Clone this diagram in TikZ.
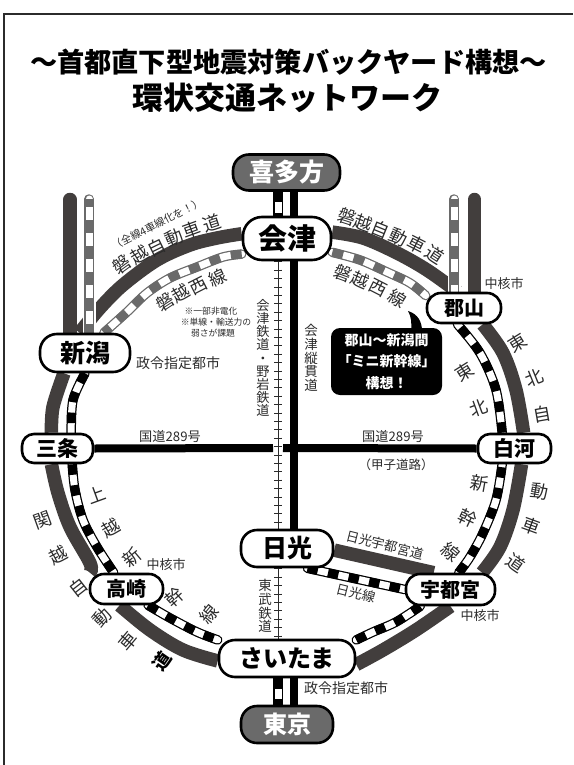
\documentclass[tikz,border=0pt]{standalone}
\usepackage{fontspec}
\setmainfont{Noto Sans CJK JP}
\usetikzlibrary{calc}
\pgfdeclarelayer{bg}
\pgfsetlayers{bg,main}
\definecolor{roadc}{HTML}{423E3D}
\definecolor{railg}{HTML}{6A6A6A}
\definecolor{ink}{HTML}{2B2B2B}
\newcommand\fz[1]{\fontsize{#1}{#1}\selectfont}
\newcommand\tx[6]{\node[lab,rotate=#4,font=\fz{#5}] (#1) at (#2,#3) {#6};}
\tikzset{
  x=1pt,y=-1pt,
  lab/.style={inner sep=0pt,outer sep=0pt,text=ink},
  vert/.style={inner sep=0pt,text=ink,align=center},
  stn/.style={draw=black,line width=2.6pt,fill=white,rounded corners=14pt,inner sep=0pt,text=black,font=\bfseries},
  stg/.style={stn,fill=railg,text=white},
  road/.style={draw=roadc,line width=13.5pt},
  expw/.style={draw=black,line width=8pt},
  railbase/.style={line cap=round,line width=9.5pt,
    postaction={draw=white,line width=7pt,line cap=round}},
  railk/.style={draw=black,railbase,postaction={draw=black,line width=9pt,line cap=butt,dash pattern=on 10.5pt off 10.5pt}},
  railn/.style={draw=railg,railbase,postaction={draw=railg,line width=9pt,line cap=butt,dash pattern=on 11pt off 11pt}},
  railv/.style={draw=railg,railbase,preaction={draw=white,line width=13pt,line cap=butt},postaction={draw=railg,line width=9pt,line cap=butt,dash pattern=on 13pt off 13pt,dash phase=5pt}},
  tie/.style={draw=ink,line width=0.8pt,postaction={draw=ink,line width=8pt,dash pattern=on 0.8pt off 7.6pt}},
  smth/.style={smooth,tension=0.55},
}
\begin{document}
\begin{tikzpicture}
\useasboundingbox (0,0) rectangle (573,765);
\draw[line width=1.8pt,color=ink] (4,765) -- (4,14) -- (573,14);

% stations
\node[stg,minimum width=107pt,minimum height=36pt,rounded corners=16pt,font=\bfseries\fz{25}] (kita) at (286.5,172.5) {喜多方};
\node[stn,minimum width=88pt,minimum height=43pt,rounded corners=19pt,font=\bfseries\fz{29}] (aizu) at (287,238.5) {会津};
\node[stn,minimum width=90pt,minimum height=38pt,rounded corners=17pt,font=\bfseries\fz{25}] (nii) at (85,353) {新潟};
\node[stn,minimum width=71pt,minimum height=29pt,rounded corners=12pt,font=\bfseries\fz{21}] (san) at (57.5,448.5) {三条};
\node[stn,minimum width=74pt,minimum height=30pt,font=\bfseries\fz{20}] (kor) at (464,308) {郡山};
\node[stn,minimum width=73pt,minimum height=29pt,rounded corners=12pt,font=\bfseries\fz{21}] (shi) at (514.5,448.5) {白河};
\node[stn,minimum width=92pt,minimum height=37pt,rounded corners=16pt,font=\bfseries\fz{25}] (nik) at (287,548.5) {日光};
\node[stn,minimum width=73pt,minimum height=30pt,font=\bfseries\fz{20}] (tak) at (126.5,589) {高崎};
\node[stn,minimum width=89pt,minimum height=31pt,font=\bfseries\fz{20}] (uts) at (450.5,589.5) {宇都宮};
\node[stn,minimum width=136pt,minimum height=37pt,rounded corners=16pt,font=\bfseries\fz{24}] (sai) at (287,658.5) {さいたま};
\node[stg,minimum width=92pt,minimum height=37pt,rounded corners=16pt,font=\bfseries\fz{24}] (tok) at (287,724.5) {東京};

\coordinate (vLr) at (70,199.5);
\coordinate (vLt) at (89,199);
\coordinate (vRr) at (474.5,199.5);
\coordinate (vRt) at (454,199);
\coordinate (rail) at (278,448);
\coordinate (exw) at (294,448);

\begin{pgfonlayer}{bg}
% roads
\draw[road] plot[smth] coordinates {(aizu.174) (217,238) (190,245) (157,260) (123,285) (100,308) (nii.105)};
\draw[road] plot[smth] coordinates {(nii.224) (53,407) (san.111)};
\draw[road] plot[smth] coordinates {(san.249) (58,493) (70,527) (90,563) (tak.156)};
\draw[road] plot[smth] coordinates {(tak.247) (150,630) (183,650) (sai.182)};
\draw[road] plot[smth] coordinates {(sai.355) (383,650) (416,630) (uts.south)};
\draw[road] plot[smth] coordinates {(uts.28) (500,547) (513,510) (shi.294)};
\draw[road] plot[smth] coordinates {(shi.60) (516,390) (503,353) (kor.319)};
\draw[road] plot[smth] coordinates {(aizu.8) (363,238) (397,253) (427,270) (kor.112)};
\draw[road,line cap=round] (vLr) -- (vLr |- nii.north);
\draw[road,line cap=round] (vRr) -- (vRr |- kor.north);
\draw[road] (nik.358) -- (uts.135);
% rails
\draw[railn] plot[smth] coordinates {(aizu.199) (223,257) (197,267) (170,278) (147,293) (127,312) (nii.47)};
\draw[railn] plot[smth] coordinates {(aizu.343) (360,260) (387,272) (410,283) (kor.162)};
\draw[railv] (vLt) -- (vLt |- nii.north);
\draw[railv] (vRt) -- (vRt |- kor.north);
\draw[railk] plot[smth] coordinates {(nii.south) (73,400) (san.49)};
\draw[railk] plot[smth] coordinates {(san.313) (75,490) (83,520) (97,547) (tak.128)};
\draw[railk] plot[smth] coordinates {(tak.323) (170,618) (197,632) (sai.165)};
\draw[railk] plot[smth] coordinates {(sai.15) (373,632) (396,622) (uts.209)};
\draw[railk] plot[smth] coordinates {(uts.64) (470,557) (483,533) (496,500) (shi.232)};
\draw[railk] plot[smth] coordinates {(shi.128) (496,390) (480,353) (kor.248)};
\draw[railk] (nik.316) -- (uts.west);
% centre lines
\draw[expw] (exw |- kita.south) -- (exw |- aizu.north);
\draw[expw] (exw |- aizu.south) -- (exw |- nik.north);
\draw[expw] (exw |- sai.south) -- (exw |- tok.north);
\draw[railk] (rail |- kita.south) -- (rail |- aizu.north);
\draw[railk] (rail |- sai.south) -- (rail |- tok.north);
\draw[tie] (rail |- aizu.south) -- (rail |- nik.north);
\draw[tie] (rail |- nik.south) -- (rail |- sai.north);
\draw[expw] (san.east) -- ([xshift=-5pt]rail);
\draw[expw] ([xshift=5pt]rail) -- (shi.west);
\end{pgfonlayer}

% title
\node[lab,text=black,font=\bfseries\fz{27.2}] (t1) at (288.5,62) {～首都直下型地震対策バックヤード構想～};
\node[lab,text=black,font=\bfseries\fz{31}] (t2) at (287,98) {環状交通ネットワーク};

% callout
\fill[black] (408,311) .. controls (418,314) and (422,322) .. (422,331) -- (411,331) .. controls (412,323) and (411,316) .. (408,311);
\node[fill=black,rounded corners=9pt,minimum width=111pt,minimum height=67pt,inner sep=0pt,text=white,align=center,font=\bfseries\fontsize{14}{21.5}\selectfont] (call) at (386.5,361.5) {郡山～新潟間\\「ミニ新幹線」\\構想！};

% upper left labels
\tx{a1}{122}{265}{36}{18}{磐}
\tx{a2}{140}{255}{31}{18}{越}
\tx{a3}{157}{247}{26}{18}{自}
\tx{a4}{174}{238}{23}{18}{動}
\tx{a5}{192}{230}{20}{18}{車}
\tx{a6}{212}{223}{18}{18}{道}
\tx{a7}{157}{224}{27}{10.5}{（全線4車線化を！）}
\tx{b1}{165}{302}{33}{17.5}{磐}
\tx{b2}{181}{293}{30}{17.5}{越}
\tx{b3}{199}{286}{27}{17.5}{西}
\tx{b4}{218}{278}{25}{17.5}{線}
\tx{n1}{211}{311}{0}{8.8}{※一部非電化}
\tx{n2}{216}{322}{0}{8.8}{※単線・輸送力の}
\tx{n3}{213}{333}{0}{8.8}{弱さが課題}
\tx{p1}{178}{363}{0}{14}{政令指定都市}
\tx{r1}{170}{436}{0}{13.2}{国道289号}
\node[vert,font=\fontsize{13.2}{13.2}\selectfont] (v1) at (263,358) {会\\津\\鉄\\道\\・\\野\\岩\\鉄\\道};
\node[vert,font=\fontsize{13.5}{13.8}\selectfont] (v2) at (311,358) {会\\津\\縦\\貫\\道};
\node[vert,font=\fontsize{13.5}{13.8}\selectfont] (v3) at (265,606) {東\\武\\鉄\\道};

% upper right labels
\tx{c1}{347}{217}{-18}{18}{磐}
\tx{c2}{363}{223}{-20}{18}{越}
\tx{c3}{380}{230}{-22}{18}{自}
\tx{c4}{398}{237}{-25}{18}{動}
\tx{c5}{417}{245}{-27}{18}{車}
\tx{c6}{435}{255}{-33}{18}{道}
\tx{d1}{343}{273}{-20}{17.5}{磐}
\tx{d2}{360}{280}{-24}{17.5}{越}
\tx{d3}{378}{288}{-27}{17.5}{西}
\tx{d4}{397}{298}{-32}{17.5}{線}
\tx{m1}{504}{284}{0}{13}{中核市}
\tx{e1}{518}{343}{32}{18}{東}
\tx{e2}{534}{378}{22}{18}{北}
\tx{e3}{542}{414}{10}{18}{自}
\tx{f1}{465}{372}{32}{18}{東}
\tx{f2}{479}{408}{20}{18}{北}
\tx{r2}{393}{436}{0}{13.2}{国道289号}
\tx{r3}{396}{465}{0}{12.5}{（甲子道路）}

% lower right labels
\tx{g1}{480}{483}{-10}{18}{新}
\tx{g2}{468}{518}{-25}{18}{幹}
\tx{g3}{451}{552}{-40}{18}{線}
\tx{h1}{540}{491}{-10}{18}{動}
\tx{h2}{531}{526}{-20}{18}{車}
\tx{h3}{516}{563}{-35}{18}{道}
\tx{i1}{385}{545}{-14}{13.2}{日光宇都宮道}
\tx{i2}{356}{593}{-14}{13.2}{日光線}
\tx{m2}{480}{616}{0}{13}{中核市}
\tx{p2}{346}{688}{0}{14}{政令指定都市}

% lower left labels
\tx{j1}{97}{495}{20}{18}{上}
\tx{j2}{111}{528}{30}{18}{越}
\tx{j3}{132}{558}{40}{18}{新}
\tx{m3}{166}{565}{0}{13}{中核市}
\tx{j4}{175}{597}{42}{18}{幹}
\tx{j5}{209}{614}{50}{18}{線}
\tx{k1}{43}{520}{20}{18}{関}
\tx{k2}{58}{555}{28}{18}{越}
\tx{k3}{78}{588}{38}{18}{自}
\tx{k4}{102}{617}{45}{18}{動}
\tx{k5}{128}{641}{50}{18}{車}
\node[lab,rotate=55,font=\bfseries\fz{18},text=black] (k6) at (162,661) {道};
\end{tikzpicture}
\end{document}
